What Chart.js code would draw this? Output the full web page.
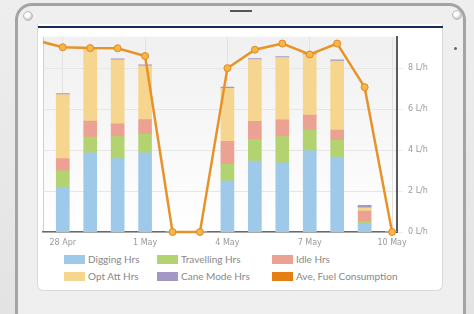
<!DOCTYPE html>
<html>
<head>
<meta charset="utf-8">
<script src="https://cdn.jsdelivr.net/npm/chart.js@4.4.1/dist/chart.umd.min.js"></script>
<style>
  html, body { margin: 0; padding: 0; width: 474px; height: 314px; overflow: hidden; }
  body { background: linear-gradient(#eeeeee, #e3e3e3); font-family: Lato, sans-serif; position: relative; }
  #bezel { position: absolute; left: 15px; top: 3px; width: 451px; height: 340px; box-sizing: border-box;
    border: 3px solid #a4a4a4; border-radius: 17px; background: #efefef; }
  #panel { position: absolute; left: 37px; top: 24px; width: 406px; height: 267px; box-sizing: border-box;
    background: #fff; border: 1px solid #d8d8d8; border-top: none; border-radius: 0 0 6px 6px; }
  #topline { position: absolute; left: 38px; top: 26px; width: 405px; height: 2px; background: #1c2b58; }
  .knob { position: absolute; width: 8px; height: 8px; border-radius: 50%;
    background: radial-gradient(circle at 40% 35%, #fff 0 30%, #c9c9c9 70%); border: 1px solid #bbb; }
  #dot { position: absolute; left: 454px; top: 47px; width: 3px; height: 3px; border-radius: 50%; background: #666; }
  #dash { position: absolute; left: 230px; top: 10px; width: 22px; height: 2px; background: #555; }
  #wrap { position: absolute; left: 38px; top: 27px; width: 405px; height: 223px; }
  #legend { position: absolute; left: 0; top: 0; }
  .item { position: absolute; display: flex; align-items: center; font-size: 10px; color: #888; white-space: nowrap; }
  .item span.box { width: 21px; height: 9px; margin-right: 3px; display: inline-block; }
</style>
</head>
<body>
<div id="bezel"></div>
<div class="knob" style="left:23px;top:11px"></div>
<div class="knob" style="left:452px;top:10px"></div>
<div id="dot"></div>
<div id="dash"></div>
<div id="panel"></div>
<div id="wrap"><canvas id="fuelChart"></canvas></div>
<div id="topline"></div>
<div id="legend"></div>
<script>
// day 0 (27 Apr) only feeds the line that enters from the left edge
const days = ['27 Apr', '28 Apr', '29 Apr', '30 Apr', '1 May', '2 May', '3 May', '4 May',
              '5 May', '6 May', '7 May', '8 May', '9 May', '10 May'];
const tickDays = ['28 Apr', '1 May', '4 May', '7 May', '10 May'];

const digging    = [null, 2.19, 3.86, 3.58, 3.86, 0, 0, 2.50, 3.46, 3.38, 3.97, 3.66, 0.37, 0];
const travelling = [null, 0.80, 0.78, 1.08, 0.92, 0, 0, 0.80, 1.06, 1.28, 1.01, 0.82, 0.14, 0];
const idle       = [null, 0.60, 0.77, 0.62, 0.71, 0, 0, 1.13, 0.88, 0.82, 0.73, 0.50, 0.51, 0];
const optAtt     = [null, 3.12, 3.53, 3.13, 2.62, 0, 0, 2.59, 3.02, 3.04, 2.95, 3.37, 0.16, 0];
const caneMode   = [null, 0.05, 0.05, 0.05, 0.05, 0, 0, 0.05, 0.05, 0.05, 0.05, 0.05, 0.12, 0];
const fuel       = [9.37, 9.02, 8.98, 8.97, 8.59, 0, 0, 8.00, 8.90, 9.20, 8.67, 9.20, 7.07, 0];

const yTicks = [0, 2, 4, 6, 8];
const yMax = 9.53;

const toXY = arr => arr.map((v, i) => ({ x: i, y: v }));

const barSet = (label, data, color) => ({
  type: 'bar', label: label, data: toXY(data), backgroundColor: color,
  yAxisID: 'yBars', barThickness: 13, borderWidth: 0, order: 2
});

const plotBg = {
  id: 'plotBg',
  beforeDraw(chart) {
    const { ctx, chartArea: a } = chart;
    const g = ctx.createLinearGradient(0, a.top, 0, a.bottom);
    g.addColorStop(0, '#f0f0f0');
    g.addColorStop(1, '#ffffff');
    ctx.save();
    ctx.fillStyle = g;
    ctx.fillRect(a.left, a.top, a.right - a.left, a.bottom - a.top);
    ctx.strokeStyle = '#d0d0d0';
    ctx.lineWidth = 1;
    ctx.beginPath();
    ctx.moveTo(a.left + 0.5, a.top);
    ctx.lineTo(a.left + 0.5, a.bottom);
    ctx.stroke();
    ctx.restore();
  }
};

const chart = new Chart(document.getElementById('fuelChart'), {
  data: {
    datasets: [
      barSet('Digging Hrs', digging, '#9ec9e8'),
      barSet('Travelling Hrs', travelling, '#b3d370'),
      barSet('Idle Hrs', idle, '#eba292'),
      barSet('Opt Att Hrs', optAtt, '#f6d58f'),
      barSet('Cane Mode Hrs', caneMode, '#a497c6'),
      {
        type: 'line', label: 'Ave, Fuel Consumption', data: toXY(fuel),
        yAxisID: 'y', borderColor: '#e8922a', borderWidth: 2.5, tension: 0,
        pointRadius: 3.5, pointBackgroundColor: '#f6b648', pointBorderColor: '#e0891e',
        pointBorderWidth: 1, legendColor: '#e37f14',
        clip: { left: 0, right: 6, top: 6, bottom: 6 }, order: 1
      }
    ]
  },
  options: {
    responsive: true,
    maintainAspectRatio: false,
    animation: false,
    layout: { padding: 0 },
    plugins: { legend: { display: false }, tooltip: { enabled: false } },
    scales: {
      x: {
        type: 'linear', min: 0.28, max: 13.18, stacked: true, offset: false,
        afterBuildTicks: s => { s.ticks = tickDays.map(d => ({ value: days.indexOf(d) })); },
        afterFit: s => { s.height = 18; },
        ticks: {
          callback: v => days[v], color: '#9a9a9a', padding: 6,
          font: { family: 'DejaVu Sans', size: 8 }, maxRotation: 0
        },
        grid: { color: '#e3e3e3', drawTicks: false, offset: false },
        border: { color: '#6a6a6a', width: 1.5 }
      },
      yBars: {
        display: false, stacked: true, min: 0, max: yMax
      },
      y: {
        position: 'right', min: 0, max: yMax,
        afterBuildTicks: s => { s.ticks = yTicks.map(v => ({ value: v })); },
        afterFit: s => { s.width = 46; },
        ticks: {
          callback: v => v + ' L/h', color: '#9a9a9a', padding: 5,
          font: { family: 'DejaVu Sans', size: 8 }
        },
        grid: { color: '#e6e6e6', tickColor: '#eeeeee', tickLength: 6 },
        border: { color: '#5a5a5a', width: 2 }
      }
    }
  },
  plugins: [plotBg]
});

// legend laid out in a 3 x 2 grid like the original
const legendCols = [64, 157, 272];
const legendRows = [256, 273];
const legendEl = document.getElementById('legend');
chart.data.datasets.forEach((ds, i) => {
  const item = document.createElement('div');
  item.className = 'item';
  item.style.left = legendCols[i % 3] + 'px';
  item.style.top = (legendRows[Math.floor(i / 3)] - 3) + 'px';
  const box = document.createElement('span');
  box.className = 'box';
  box.style.background = ds.legendColor || ds.backgroundColor;
  item.appendChild(box);
  item.appendChild(document.createTextNode(ds.label));
  legendEl.appendChild(item);
});
</script>
</body>
</html>
